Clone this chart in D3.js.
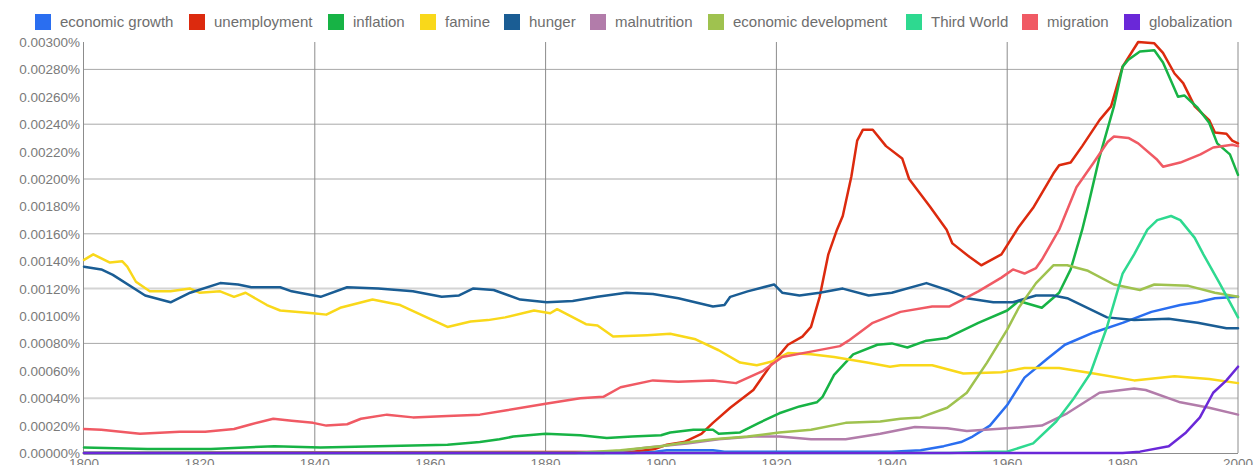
<!DOCTYPE html>
<html><head><meta charset="utf-8">
<script src="https://cdn.jsdelivr.net/npm/d3@7"></script>
<style>body{margin:0;background:#fff;font-family:"Liberation Sans",Arial,sans-serif;}</style>
</head><body><svg id="c" width="1257" height="465"></svg>
<script>
const seriesNames = ["economic growth","unemployment","inflation","famine","hunger","malnutrition","economic development","Third World","migration","globalization"];
const seriesColors = ["#2a6ef0","#dc2a0e","#17b345","#f9d81a","#1a5d94","#b27caa","#9fc24f","#2ed990","#f05a64","#6a28d8"];
const yTicks = [0,0.0002,0.0004,0.0006,0.0008,0.001,0.0012,0.0014,0.0016,0.0018,0.002,0.0022,0.0024,0.0026,0.0028,0.003];
const xTicks = [1800,1820,1840,1860,1880,1900,1920,1940,1960,1980,2000];

const economicGrowth = [[1800,0],[1895,0],[1899,0.00001],[1901,0.00002],[1909,0.00002],[1911,0.00001],[1940,0.00001],[1945,0.00002],[1949,0.00005],[1952,0.00008],[1954,0.00012],[1957,0.0002],[1960,0.00035],[1963,0.00055],[1967,0.00069],[1970,0.00079],[1975,0.00088],[1980,0.00095],[1985,0.00103],[1990,0.00108],[1993,0.0011],[1996,0.00113],[2000,0.00114]];
const unemployment = [[1800,0],[1895,0.00001],[1899,0.00003],[1901,0.00006],[1904,0.00008],[1907,0.00014],[1909,0.00022],[1912,0.00033],[1916,0.00046],[1919,0.00064],[1922,0.00079],[1924.5,0.00085],[1926,0.00092],[1927.5,0.00114],[1929,0.00145],[1930.5,0.00163],[1931.5,0.00173],[1933,0.00202],[1934,0.00228],[1935,0.00236],[1936.7,0.00236],[1939,0.00224],[1941.8,0.00215],[1943,0.002],[1946.6,0.0018],[1949.5,0.00163],[1950.5,0.00153],[1953.5,0.00143],[1955.5,0.00137],[1959,0.00145],[1962,0.00165],[1964.5,0.00179],[1968,0.00204],[1969,0.0021],[1971,0.00212],[1973,0.00224],[1976,0.00243],[1978,0.00253],[1980,0.00282],[1982.7,0.003],[1985.5,0.00299],[1987,0.00292],[1989,0.00277],[1990.5,0.0027],[1992.5,0.00253],[1995,0.00243],[1996,0.00234],[1998,0.00233],[1999,0.00228],[2000,0.00226]];
const inflation = [[1800,0.00004],[1811,0.00003],[1822,0.00003],[1833,0.00005],[1841,0.00004],[1851,0.00005],[1863,0.00006],[1868.6,0.00008],[1872,0.0001],[1874.4,0.00012],[1880,0.00014],[1886,0.00013],[1890.6,0.00011],[1895,0.00012],[1900,0.00013],[1901.6,0.00015],[1905.6,0.00017],[1909,0.00017],[1910,0.00014],[1913.7,0.00015],[1917,0.00022],[1920.5,0.00029],[1924,0.00034],[1927,0.00037],[1928,0.00041],[1930,0.00057],[1933.3,0.00072],[1937.5,0.00079],[1940,0.0008],[1942.7,0.00077],[1946,0.00082],[1949.6,0.00084],[1955,0.00095],[1960,0.00104],[1962,0.00111],[1966,0.00106],[1969,0.00117],[1971,0.00134],[1973,0.00163],[1974,0.0018],[1976,0.00216],[1978.5,0.00253],[1980,0.00282],[1981,0.00287],[1983,0.00293],[1985.5,0.00294],[1987,0.00285],[1989.6,0.0026],[1990.7,0.00261],[1993,0.00252],[1995,0.00241],[1996.4,0.00226],[1998.6,0.00218],[2000,0.00203]];
const famine = [[1800,0.00141],[1801.6,0.00145],[1804.5,0.00139],[1806.6,0.0014],[1807.5,0.00136],[1809,0.00125],[1811.4,0.00118],[1815,0.00118],[1818.4,0.0012],[1820,0.00117],[1823.6,0.00118],[1826,0.00114],[1828,0.00117],[1831.7,0.00108],[1834,0.00104],[1839.7,0.00102],[1842,0.00101],[1844.4,0.00106],[1850,0.00112],[1854.8,0.00108],[1859.4,0.00099],[1863,0.00092],[1867,0.00096],[1870,0.00097],[1873,0.00099],[1878,0.00104],[1880.8,0.00102],[1882,0.00105],[1887,0.00094],[1889,0.00093],[1891.7,0.00085],[1897.6,0.00086],[1901.6,0.00087],[1906,0.00083],[1910,0.00075],[1913.7,0.00066],[1916.6,0.00064],[1919.4,0.00067],[1922,0.00073],[1926,0.00072],[1930,0.0007],[1935.7,0.00066],[1939.7,0.00063],[1941.5,0.00064],[1947,0.00064],[1952.4,0.00058],[1959,0.00059],[1963,0.00062],[1969,0.00062],[1975,0.00058],[1982,0.00053],[1989,0.00056],[1995,0.00054],[2000,0.00051]];
const hunger = [[1800,0.00136],[1803,0.00134],[1805,0.0013],[1810.6,0.00115],[1815,0.0011],[1818.4,0.00117],[1823.6,0.00124],[1826.7,0.00123],[1829,0.00121],[1834,0.00121],[1836,0.00118],[1841,0.00114],[1845.6,0.00121],[1851,0.0012],[1857,0.00118],[1862,0.00114],[1865,0.00115],[1867.4,0.0012],[1871,0.00119],[1875.6,0.00112],[1880.2,0.0011],[1884.7,0.00111],[1889,0.00114],[1894,0.00117],[1898.6,0.00116],[1903,0.00113],[1909,0.00107],[1911,0.00108],[1912,0.00114],[1915,0.00118],[1919.6,0.00123],[1921,0.00117],[1924,0.00115],[1927.5,0.00117],[1931.5,0.0012],[1936,0.00115],[1940,0.00117],[1946,0.00124],[1949.6,0.00119],[1953,0.00113],[1957.6,0.0011],[1961,0.0011],[1965,0.00115],[1968,0.00115],[1970.4,0.00113],[1977.3,0.00099],[1982,0.00097],[1988,0.00098],[1993,0.00095],[1998,0.00091],[2000,0.00091]];
const malnutrition = [[1800,0],[1890,0],[1894,0.00002],[1897.6,0.00004],[1904.5,0.00007],[1910,0.0001],[1916,0.00012],[1920.5,0.00012],[1926,0.0001],[1932,0.0001],[1938,0.00014],[1941.5,0.00017],[1944,0.00019],[1949.6,0.00018],[1953,0.00016],[1960,0.00018],[1966,0.0002],[1970.4,0.00029],[1976,0.00044],[1982,0.00047],[1984,0.00046],[1990,0.00037],[1995,0.00033],[2000,0.00028]];
const economicDevelopment = [[1800,0],[1885,0],[1893,0.00002],[1900,0.00005],[1903,0.00007],[1909,0.0001],[1915,0.00012],[1920.5,0.00015],[1926,0.00017],[1932,0.00022],[1938,0.00023],[1941.5,0.00025],[1945,0.00026],[1949.6,0.00033],[1953,0.00044],[1956.5,0.00066],[1960,0.0009],[1962,0.00106],[1965,0.00124],[1968,0.00137],[1970.4,0.00137],[1974,0.00133],[1978.5,0.00123],[1983,0.00119],[1985.5,0.00123],[1991.4,0.00122],[1996,0.00117],[2000,0.00114]];
const thirdWorld = [[1800,0],[1950,0],[1957,0.00001],[1960,0.00001],[1964.5,0.00007],[1968.5,0.00023],[1971.4,0.00039],[1974.4,0.00058],[1977.3,0.00092],[1980,0.00131],[1982,0.00145],[1984.3,0.00163],[1986,0.0017],[1988.4,0.00173],[1990,0.0017],[1992.5,0.00157],[1994,0.00145],[1996.8,0.00124],[1998.6,0.0011],[2000,0.00099]];
const migration = [[1800,0.000175],[1803,0.00017],[1809.7,0.00014],[1816.6,0.000155],[1821,0.000155],[1826,0.000175],[1829,0.00021],[1832.8,0.00025],[1836,0.000235],[1839.7,0.00022],[1842,0.0002],[1845.6,0.00021],[1848,0.00025],[1852.5,0.00028],[1857,0.00026],[1863,0.00027],[1868.6,0.00028],[1873,0.00031],[1880,0.00036],[1886,0.0004],[1890,0.00041],[1893,0.00048],[1898.6,0.00053],[1903,0.00052],[1909,0.00053],[1913,0.00051],[1917.7,0.0006],[1921,0.0007],[1926,0.00074],[1931,0.00078],[1932.5,0.00082],[1936.7,0.00095],[1941.5,0.00103],[1947,0.00107],[1950,0.00107],[1955,0.00118],[1959,0.00128],[1961,0.00134],[1963,0.00131],[1965,0.00135],[1966,0.00141],[1969,0.00163],[1972,0.00194],[1975,0.00212],[1977.4,0.00227],[1978.5,0.00231],[1981,0.0023],[1982.7,0.00226],[1986,0.00214],[1987,0.00209],[1990,0.00212],[1993.5,0.00218],[1995.7,0.00223],[1999,0.00225],[2000,0.00224]];
const globalization = [[1800,0],[1980,0],[1983,0.00001],[1988,0.00005],[1991,0.00015],[1993.4,0.00026],[1995.7,0.00044],[1998,0.00053],[2000,0.00063]];

const allSeries = [economicGrowth,unemployment,inflation,famine,hunger,malnutrition,economicDevelopment,thirdWorld,migration,globalization];

const svg = d3.select("#c");
const x = d3.scaleLinear().domain([1800,2000]).range([84,1238]);
const y = d3.scaleLinear().domain([0,0.003]).range([453,42]);

// horizontal grid
svg.append("g").selectAll("line").data(yTicks.filter(v => v>0 && Math.round(v*1e5)%40===0))
  .join("line").attr("x1",84).attr("x2",1238).attr("y1",d=>y(d)).attr("y2",d=>y(d))
  .attr("stroke",d => (Math.round(d*1e5)===40||Math.round(d*1e5)===120) ? "#d4d4d4" : "#a8a8a8")
  .attr("stroke-width",d => (Math.round(d*1e5)===40||Math.round(d*1e5)===120) ? 2 : 1);
// vertical grid
svg.append("g").selectAll("line").data([1840,1880,1920,1960,2000])
  .join("line").attr("x1",d=>x(d)).attr("x2",d=>x(d)).attr("y1",42).attr("y2",453)
  .attr("stroke","#8c8c8c").attr("stroke-width",1);
// axes lines
svg.append("line").attr("x1",83.5).attr("x2",83.5).attr("y1",42).attr("y2",454).attr("stroke","#8c8c8c");
svg.append("line").attr("x1",83).attr("x2",1238).attr("y1",453.5).attr("y2",453.5).attr("stroke","#8c8c8c");

// y labels
svg.append("g").selectAll("text").data(yTicks).join("text")
  .attr("x",80).attr("y",d=>y(d)+5).attr("text-anchor","end")
  .attr("font-size","13.5px").attr("fill","#7a7a7a")
  .text(d => (d).toFixed(5)+"%");
// x labels
svg.append("g").selectAll("text").data(xTicks).join("text")
  .attr("x",d=>x(d)).attr("y",468).attr("text-anchor","middle")
  .attr("font-size","13.5px").attr("fill","#7a7a7a").text(d=>d);

// lines
const line = d3.line().x(d=>x(d[0])).y(d=>y(d[1]));
svg.append("g").selectAll("path").data(allSeries).join("path")
  .attr("d",line).attr("fill","none")
  .attr("stroke",(d,i)=>seriesColors[i]).attr("stroke-width",2.5)
  .attr("stroke-linejoin","round").attr("stroke-linecap","round");

// legend
const legendX = [35,189,328,420,504,590,708,906,1022,1124];
const lg = svg.append("g").selectAll("g").data(seriesNames).join("g")
  .attr("transform",(d,i)=>`translate(${legendX[i]},14)`);
lg.append("rect").attr("width",16).attr("height",16).attr("fill",(d,i)=>seriesColors[i]);
lg.append("text").attr("x",25).attr("y",13).attr("font-size","15px").attr("fill","#6e6e6e").text(d=>d);
</script></body></html>
